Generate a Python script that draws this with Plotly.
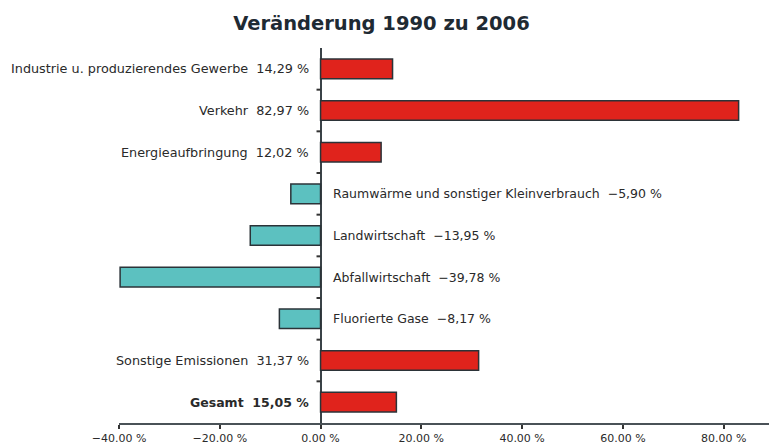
import plotly.graph_objects as go

categories = [
    "Industrie u. produzierendes Gewerbe",
    "Verkehr",
    "Energieaufbringung",
    "Raumwärme und sonstiger Kleinverbrauch",
    "Landwirtschaft",
    "Abfallwirtschaft",
    "Fluorierte Gase",
    "Sonstige Emissionen",
    "Gesamt",
]
values = [14.29, 82.97, 12.02, -5.90, -13.95, -39.78, -8.17, 31.37, 15.05]
value_labels = ["14,29 %", "82,97 %", "12,02 %", "−5,90 %", "−13,95 %",
                "−39,78 %", "−8,17 %", "31,37 %", "15,05 %"]
tick_values = [-40, -20, 0, 20, 40, 60, 80]
tick_labels = ["−40.00 %", "−20.00 %", "0.00 %", "20.00 %", "40.00 %", "60.00 %", "80.00 %"]

RED = "#E0231C"
TEAL = "#5CC1C0"
FONT = "DejaVu Sans"
LABEL_SIZE = 12.5

ypos = list(range(len(categories)))
colors = [RED if v >= 0 else TEAL for v in values]

fig = go.Figure(go.Bar(
    x=values, y=ypos, orientation="h",
    marker=dict(color=colors, line=dict(color="#2b3338", width=1.5)),
    width=0.47,
    hoverinfo="skip",
))

annotations = []
for i, (cat, v, lab) in enumerate(zip(categories, values, value_labels)):
    bold = cat == "Gesamt"
    text = f"{cat}  {lab}"
    if bold:
        text = f"<b>{text}</b>"
    if v >= 0:
        annotations.append(dict(x=0, y=i, xref="x", yref="y", text=text,
                                xanchor="right", yanchor="middle", xshift=-10,
                                showarrow=False,
                                font=dict(family=FONT, size=LABEL_SIZE + (0.3 if not bold else 0),
                                          color="#2a2a2a")))
    else:
        annotations.append(dict(x=0, y=i, xref="x", yref="y", text=text,
                                xanchor="left", yanchor="middle", xshift=10,
                                showarrow=False,
                                font=dict(family=FONT, size=LABEL_SIZE, color="#2a2a2a")))

shapes = []
for i in range(len(categories) - 1):
    shapes.append(dict(type="line", xref="x", yref="y", x0=-0.8, x1=0,
                       y0=i + 0.5, y1=i + 0.5, line=dict(color="#333", width=2)))

fig.update_layout(
    width=769, height=445,
    margin=dict(l=119, r=0, t=48, b=22),
    paper_bgcolor="white", plot_bgcolor="white",
    title=dict(text="<b>Veränderung 1990 zu 2006</b>", x=0.496, xanchor="center",
               y=0.948, yanchor="middle",
               font=dict(family=FONT, size=19.5, color="#1e2a33")),
    showlegend=False,
    bargap=0.5,
    annotations=annotations,
    shapes=shapes,
    xaxis=dict(range=[-40, 89], tickvals=tick_values, ticktext=tick_labels,
               automargin=False,
               showgrid=False, zeroline=True, zerolinecolor="#3a4247", zerolinewidth=2,
               showline=True, linecolor="#4a5257", linewidth=2,
               ticks="outside", ticklen=4, tickcolor="#333", tickwidth=2,
               tickfont=dict(family=FONT, size=11, color="#2a2a2a")),
    yaxis=dict(range=[len(categories) - 0.5, -0.5], showticklabels=False,
               automargin=False,
               showgrid=False, zeroline=False, showline=False, ticks=""),
)

fig.write_html("out.html", config={"displayModeBar": False},
               post_script="document.body.style.margin='0';document.body.style.overflow='hidden';")
